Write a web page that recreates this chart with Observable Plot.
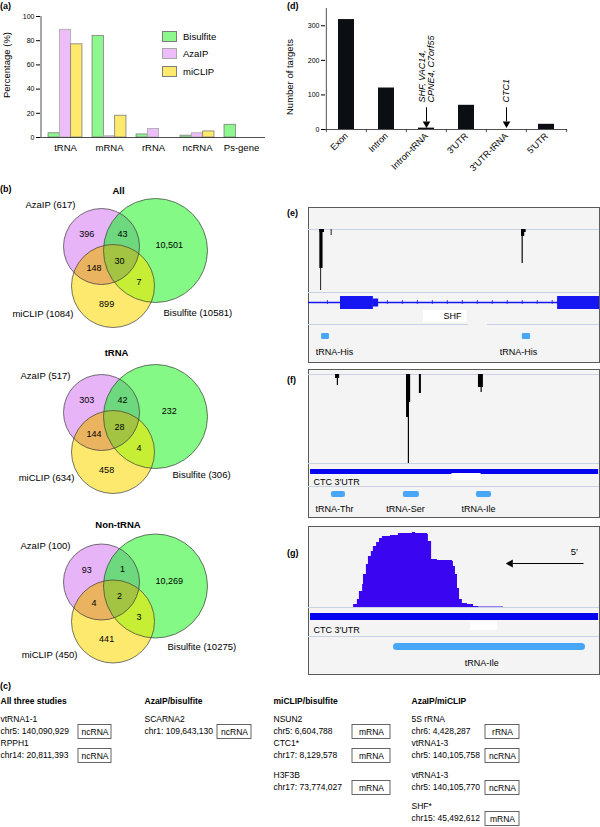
<!DOCTYPE html>
<html>
<head>
<meta charset="utf-8">
<script src="https://cdn.jsdelivr.net/npm/d3@7"></script>
<script src="https://cdn.jsdelivr.net/npm/@observablehq/plot@0.6"></script>
<style>
html,body{margin:0;padding:0;background:#fff;}
#fig{position:relative;width:600px;height:827px;overflow:hidden;font-family:"Liberation Sans",Arial,Helvetica,sans-serif;color:#000;}
.lbl{position:absolute;font-weight:bold;font-size:9px;line-height:10px;white-space:nowrap;}
.box{position:absolute;border:1px solid #5a5a5a;background:#f4f4f4;box-sizing:border-box;}
.sw{position:absolute;width:15px;height:11px;box-sizing:border-box;border:1px solid #8a8a8a;}
.lg{position:absolute;font-size:9.5px;line-height:11px;white-space:nowrap;}
</style>
</head>
<body>
<div id="fig"></div>
<script>
// ================= DATA =================
// (a) RNA class of targets, % per study
const rnaCategories = ["tRNA", "mRNA", "rRNA", "ncRNA", "Ps-gene"];
const studies = ["Bisulfite", "AzaIP", "miCLIP"];
const pctBisulfite = [3.5, 84, 2.5, 1.5, 10.5];
const pctAzaIP = [89, 1, 7, 3.5, 0];
const pctMiCLIP = [77, 18, 0, 5, 0];
const pctTicks = [0, 20, 40, 60, 80, 100];

// (b) Venn diagrams
const vennSubsets = ["All", "tRNA", "Non-tRNA"];
const vennSets = ["AzaIP", "Bisulfite", "miCLIP"];
const vennTotalsAll = [617, 10581, 1084];
const vennTotalsTRNA = [517, 306, 634];
const vennTotalsNonTRNA = [100, 10275, 450];
// regions: AzaIP only, AzaIP&Bisulfite, Bisulfite only, all three, AzaIP&miCLIP, Bisulfite&miCLIP, miCLIP only
const vennRegions = ["A", "AB", "B", "ABM", "AM", "BM", "M"];
const vennCountsAll = [396, 43, 10501, 30, 148, 7, 899];
const vennCountsTRNA = [303, 42, 232, 28, 144, 4, 458];
const vennCountsNonTRNA = [93, 1, 10269, 2, 4, 3, 441];

// (c) shared sites
const sharedGroups = ["All three studies", "AzaIP/bisulfite", "miCLIP/bisulfite", "AzaIP/miCLIP"];
const sharedGroupOf = [0, 0, 1, 2, 2, 2, 3, 3, 3, 3];
const sharedGenes = ["vtRNA1-1", "RPPH1", "SCARNA2", "NSUN2", "CTC1*", "H3F3B", "5S rRNA", "vtRNA1-3", "vtRNA1-3", "SHF*"];
const sharedCoords = ["chr5: 140,090,929", "chr14: 20,811,393", "chr1: 109,643,130", "chr5: 6,604,788", "chr17: 8,129,578", "chr17: 73,774,027", "chr6: 4,428,287", "chr5: 140,105,758", "chr5: 140,105,770", "chr15: 45,492,612"];
const sharedTypes = ["ncRNA", "ncRNA", "ncRNA", "mRNA", "mRNA", "mRNA", "rRNA", "ncRNA", "ncRNA", "mRNA"];

// (d) miCLIP targets by gene feature
const targetCategories = ["Exon", "Intron", "Intron-tRNA", "3′UTR", "3′UTR-tRNA", "5′UTR"];
const targetCounts = [318, 120, 4, 70, 0, 15];
const targetTicks = [0, 100, 200, 300];
const targetNoteCats = ["Intron-tRNA", "3′UTR-tRNA"];
const targetNotes = ["SHF, VAC14,\nCPNE4, C7orf55", "CTC1"];

// (e) SHF locus (positions in % of browser window, depth in reads)
const shfSignalStart = [3.9, 3.9, 4.2, 7.8, 73.2, 73.2, 73.4];
const shfSignalEnd = [5.5, 5.0, 4.5, 8.1, 74.8, 74.3, 73.8];
const shfSignalDepth = [3, 39, 61, 6, 3, 7, 34];
const shfExonStart = [11.0, 85.6];
const shfExonEnd = [22.3, 100];
const shfUtrStart = [22.3];
const shfUtrEnd = [24.1];
const shfGeneName = "SHF";
const shfGeneLabelX = 49.5;
const shfTrnaStart = [4.5, 73.5];
const shfTrnaEnd = [7.2, 76.3];
const shfTrnaNames = ["tRNA-His", "tRNA-His"];
const shfTrnaLabelX = [8.9, 72.2];

// (f) CTC1 3'UTR
const ctcSignalStart = [9.3, 9.9, 33.7, 33.7, 34.3, 38.1, 58.4, 59.3];
const ctcSignalEnd = [10.7, 10.3, 35.1, 34.4, 34.7, 38.8, 60.1, 59.7];
const ctcSignalDepth = [4, 11, 28, 43, 89, 19, 13, 18];
const ctcFeatureName = "CTC 3′UTR";
const ctcUtrStart = 0.7, ctcUtrEnd = 99.7;
const ctcTrnaStart = [7.9, 32.6, 57.7];
const ctcTrnaEnd = [12.7, 38.1, 62.9];
const ctcTrnaNames = ["tRNA-Thr", "tRNA-Ser", "tRNA-Ile"];
const ctcTrnaLabelX = [8.9, 33.3, 58.4];

// (g) tRNA-Ile coverage
const ileCoveragePos = [15.1, 15.5, 16.8, 17.5, 18.6, 18.9, 19.9, 20.6, 21.6, 22.3, 23.4, 24.4, 25.4, 28.2, 30.9, 35.7, 36.8, 40.9, 41.2, 42.3, 44.3, 49.5, 49.8, 50.5, 51.2, 51.9, 52.9, 54.6, 56.7, 58.4, 67.0];
const ileCoverageDepth = [0, 3, 8, 16, 23, 33, 43, 51, 56, 61, 65, 69, 71, 72, 74, 75, 74, 73, 66, 48, 47, 46, 41, 33, 19, 8, 4, 3, 1, 0.6, 0];
const ileTrnaStart = 29.2, ileTrnaEnd = 95.2;
const ileTrnaName = "tRNA-Ile";
const ileTrnaLabelX = 59.5;
const ileArrowFrom = 94.5, ileArrowTo = 68.6, ileArrowDepth = 44;
const ileStrandLabel = "5′";

// ================= HELPERS =================
const FONT = "'Liberation Sans', Arial, Helvetica, sans-serif";
const baseStyle = {fontFamily: FONT, fontSize: "9px", background: "transparent", overflow: "visible", color: "#000"};
const fig = document.getElementById("fig");
function place(node, left, top) {
  node.style.position = "absolute";
  node.style.left = left + "px";
  node.style.top = top + "px";
  node.style.maxWidth = "none";
  fig.appendChild(node);
  return node;
}
function div(cls, text, left, top, extra = {}) {
  const d = document.createElement("div");
  d.className = cls;
  if (text != null) d.textContent = text;
  Object.assign(d.style, {left: left + "px", top: top + "px"}, extra);
  fig.appendChild(d);
  return d;
}
const idx = (a) => d3.range(a.length);

// panel letters
[["(a)", 0, 1], ["(d)", 287, 1], ["(b)", 0, 184], ["(e)", 287, 208], ["(f)", 287, 375], ["(g)", 287, 548], ["(c)", 0, 681]]
  .forEach(([t, x, y]) => div("lbl", t, x, y));

// ================= (a) =================
const studyFill = {Bisulfite: "#8ef78e", AzaIP: "#edbdf9", miCLIP: "#fde96c"};
const studyStroke = {Bisulfite: "#7d7d7d", AzaIP: "#a8a8a8", miCLIP: "#7d7d7d"};
{
  const W = 270, H = 160, ML = 40, MR = 5, MT = 16, MB = 23;
  const step = 44;
  const padOuter = ((W - ML - MR) / step - rnaCategories.length) / 2;
  const barW = 11.3, off = (step - studies.length * barW) / 2;
  const series = [pctBisulfite, pctAzaIP, pctMiCLIP];
  const ids = idx(rnaCategories);
  const chart = Plot.plot({
    width: W, height: H, marginLeft: ML, marginRight: MR, marginTop: MT, marginBottom: MB,
    style: baseStyle,
    x: {domain: rnaCategories, paddingInner: 0, paddingOuter: padOuter},
    y: {domain: [0, 100]},
    marks: [
      ...studies.map((s, j) => Plot.barY(ids.filter(i => series[j][i] > 0), {
        x: i => rnaCategories[i], y: i => series[j][i],
        fill: studyFill[s], stroke: studyStroke[s], strokeWidth: 0.8,
        insetLeft: off + j * barW, insetRight: step - off - (j + 1) * barW
      })),
      Plot.ruleY([0], {stroke: "#222", strokeWidth: 0.8}),
      Plot.ruleX([rnaCategories[0]], {dx: -(padOuter + 0.5) * step, stroke: "#222", strokeWidth: 0.8}),
      Plot.axisY({ticks: pctTicks, tickSize: 4, tickPadding: 2, fontSize: 7, label: null}),
      Plot.axisX({tickSize: 0, tickPadding: 7, fontSize: 9.5, label: null}),
      Plot.text(["Percentage (%)"], {text: d => d, frameAnchor: "left", textAnchor: "middle", rotate: -90, dx: -34, dy: -12, fontSize: 9.5})
    ]
  });
  place(chart, 0, 0);
  // legend
  studies.forEach((s, j) => {
    const cy = 36 + j * 17.5;
    div("sw", null, 162, cy - 5.5, {background: studyFill[s], borderColor: studyStroke[s]});
    div("lg", s, 183, cy - 5.5);
  });
}

// ================= (d) =================
{
  const W = 320, H = 190, ML = 45, MR = 33, MT = 8, MB = 61;
  const step = (W - ML - MR) / targetCategories.length;
  const last = targetCategories[targetCategories.length - 1];
  const chart = Plot.plot({
    width: W, height: H, marginLeft: ML, marginRight: MR, marginTop: MT, marginBottom: MB,
    style: baseStyle,
    x: {domain: targetCategories, paddingInner: 0.6, paddingOuter: 0.3},
    y: {domain: [0, 350]},
    marks: [
      Plot.barY(idx(targetCategories), {x: i => targetCategories[i], y: i => targetCounts[i], fill: "#0b0f14"}),
      Plot.ruleY([0], {stroke: "#222", strokeWidth: 0.8}),
      Plot.ruleX([targetCategories[0]], {dx: -step / 2, stroke: "#222", strokeWidth: 0.8}),
      Plot.ruleX(targetCategories, {x: d => d, y1: 0, y2: -9, dx: -step / 2, stroke: "#222", strokeWidth: 0.8}),
      Plot.ruleX([last], {x: d => d, y1: 0, y2: -9, dx: step / 2, stroke: "#222", strokeWidth: 0.8}),
      Plot.axisY({ticks: targetTicks, tickSize: 4, tickPadding: 2, fontSize: 7, label: null}),
      Plot.axisX({tickSize: 0, tickPadding: 5, tickRotate: -45, fontSize: 9, label: null}),
      Plot.text(["Number of targets"], {text: d => d, frameAnchor: "left", textAnchor: "middle", rotate: -90, dx: -36, dy: 8, fontSize: 9.5}),
      Plot.ruleX(targetNoteCats, {x: d => d, y1: 63, y2: 22, stroke: "#000", strokeWidth: 1}),
      Plot.dot(targetNoteCats, {x: d => d, y: 17, symbol: "triangle", r: 2.8, fill: "#000", stroke: "none", rotate: 180}),
      Plot.text(targetNoteCats, {x: d => d, y: 78, text: (d, i) => targetNotes[i], rotate: -90, textAnchor: "start", fontStyle: "italic", fontSize: 9})
    ]
  });
  place(chart, 280, 0);
}

// ================= (b) =================
{
  const regionFill = {A: "#e8b4f8", B: "#85f985", M: "#fee96f", AB: "#6dd87d", AM: "#e9b35f", BM: "#c6ee34", ABM: "#a3c443"};
  const geom = {A: [-54, -4, 38], B: [0, 0, 52], M: [-42.5, 35.5, 41.5]};
  const layout = [
    {c: [155, 250], title: [118, 190], A: [75, 204], M: [73, 313], B: [163, 312]},
    {c: [155, 416], title: [116, 352], A: [70, 375], M: [74, 477], B: [172, 474]},
    {c: [155, 585.5], title: [117.5, 524], A: [70, 545], M: [77, 654], B: [167, 646]}
  ];
  const totals = [vennTotalsAll, vennTotalsTRNA, vennTotalsNonTRNA];
  const counts = [vennCountsAll, vennCountsTRNA, vennCountsNonTRNA];
  const keys = ["A", "B", "M"];
  const inside = (p, c) => (p[0] - c.x) ** 2 + (p[1] - c.y) ** 2 <= c.r * c.r + 1e-6;
  const boundary = (c, n = 360) => d3.range(n).map(k => {
    const t = 2 * Math.PI * k / n;
    return [c.x + c.r * Math.cos(t), c.y + c.r * Math.sin(t)];
  });
  function intersection(cs) {
    const pts = [];
    cs.forEach(c => boundary(c).forEach(p => { if (cs.every(o => o === c || inside(p, o))) pts.push(p); }));
    const mx = d3.mean(pts, p => p[0]), my = d3.mean(pts, p => p[1]);
    pts.sort((a, b) => Math.atan2(a[1] - my, a[0] - mx) - Math.atan2(b[1] - my, b[0] - mx));
    return pts;
  }
  const circles = [], overlaps = [], regionLabels = [], titles = [], labelsEnd = [], labelsStart = [];
  vennSubsets.forEach((name, s) => {
    const L = layout[s];
    const cs = keys.map(k => ({key: k, x: L.c[0] + geom[k][0], y: L.c[1] + geom[k][1], r: geom[k][2]}));
    circles.push(...cs);
    const byKey = Object.fromEntries(cs.map(c => [c.key, c]));
    ["AB", "AM", "BM", "ABM"].forEach(k => {
      intersection([...k].map(ch => byKey[ch])).forEach(([x, y]) => overlaps.push({id: name + k, key: k, x, y}));
    });
    const acc = {};
    const x0 = d3.min(cs, c => c.x - c.r), x1 = d3.max(cs, c => c.x + c.r);
    const y0 = d3.min(cs, c => c.y - c.r), y1 = d3.max(cs, c => c.y + c.r);
    for (let x = x0; x <= x1; x += 0.5) for (let y = y0; y <= y1; y += 0.5) {
      const k = cs.filter(c => inside([x, y], c)).map(c => c.key).join("");
      if (!k) continue;
      const a = acc[k] || (acc[k] = [0, 0, 0]);
      a[0] += x; a[1] += y; a[2]++;
    }
    vennRegions.forEach((k, i) => {
      const a = acc[k];
      regionLabels.push({x: a[0] / a[2], y: a[1] / a[2], text: d3.format(",")(counts[s][i])});
    });
    titles.push({x: L.title[0], y: L.title[1], text: name});
    vennSets.forEach((setName, j) => {
      const k = keys[j];
      const item = {x: L[k][0], y: L[k][1], text: `${setName} (${totals[s][j]})`};
      (k === "B" ? labelsStart : labelsEnd).push(item);
    });
  });
  const chart = Plot.plot({
    width: 280, height: 500, margin: 0,
    style: baseStyle,
    x: {domain: [0, 280], range: [0, 280], axis: null},
    y: {domain: [180, 680], range: [0, 500], axis: null},
    r: {type: "identity"},
    color: {type: "identity"},
    marks: [
      Plot.dot(circles, {x: "x", y: "y", r: "r", fill: d => regionFill[d.key], stroke: "none"}),
      ...["AB", "AM", "BM", "ABM"].map(k => Plot.line(overlaps.filter(d => d.key === k), {x: "x", y: "y", z: "id", fill: regionFill[k], stroke: "none"})),
      Plot.dot(circles, {x: "x", y: "y", r: "r", fill: "none", stroke: "#3a3a3a", strokeWidth: 0.7}),
      Plot.text(regionLabels, {x: "x", y: "y", text: "text", fontSize: 9}),
      Plot.text(titles, {x: "x", y: "y", text: "text", fontSize: 9.5, fontWeight: "bold"}),
      Plot.text(labelsEnd, {x: "x", y: "y", text: "text", fontSize: 9.5, textAnchor: "end"}),
      Plot.text(labelsStart, {x: "x", y: "y", text: "text", fontSize: 9.5, textAnchor: "start"})
    ]
  });
  place(chart, 0, 180);
}

// ================= (c) =================
{
  const colX = [0, 144, 273, 411];
  const boxX = [78, 217, 352, 485];
  const boxW = [33, 34, 38, 34];
  const rowY = [719, 743, 775, 806];
  const headerY = 701;
  const counter = [0, 0, 0, 0];
  const rows = sharedGenes.map((g, i) => {
    const grp = sharedGroupOf[i];
    const r = counter[grp]++;
    return {grp, r, gene: g, coord: sharedCoords[i], type: sharedTypes[i]};
  });
  const chart = Plot.plot({
    width: 600, height: 147, margin: 0,
    style: baseStyle,
    x: {domain: [0, 600], range: [0, 600], axis: null},
    y: {domain: [680, 827], range: [0, 147], axis: null},
    marks: [
      Plot.text(sharedGroups, {x: (d, i) => colX[i], y: headerY, text: d => d, textAnchor: "start", fontWeight: "bold", fontSize: 8.5}),
      Plot.text(rows, {x: d => colX[d.grp], y: d => rowY[d.r], text: "gene", textAnchor: "start", fontSize: 8.5}),
      Plot.text(rows, {x: d => colX[d.grp], y: d => rowY[d.r] + 12, text: "coord", textAnchor: "start", fontSize: 8.5}),
      Plot.rect(rows, {x1: d => boxX[d.grp], x2: d => boxX[d.grp] + boxW[d.grp], y1: d => rowY[d.r] + 5.5, y2: d => rowY[d.r] + 19.5, fill: "#fff", stroke: "#555", strokeWidth: 0.9}),
      Plot.text(rows, {x: d => boxX[d.grp] + boxW[d.grp] / 2, y: d => rowY[d.r] + 13, text: "type", fontSize: 8.5})
    ]
  });
  place(chart, 0, 680);
}

// ================= (e)(f)(g) genome browser =================
const BW = 291;
const geneBlue = "#1616f2", utrBlue = "#0404ee", trnaBlue = "#48a6f8", pale = "#c9d2e4", covColor = "#3a06f2";
function track(h, yDomain, yRange, marks) {
  return Plot.plot({
    width: BW, height: h, margin: 0, style: baseStyle,
    x: {domain: [0, 100], range: [0, BW], axis: null},
    y: {domain: yDomain, range: yRange, axis: null},
    marks
  });
}
// boxes
div("box", null, 308, 207, {width: "292px", height: "156px"});
div("box", null, 308, 369, {width: "292px", height: "149px"});
div("box", null, 308, 526, {width: "292px", height: "149px"});

// (e) signal
place(track(66, [0, 63], [1, 64], [
  Plot.ruleY([0, 63], {stroke: pale, strokeWidth: 1}),
  Plot.rect(idx(shfSignalStart), {x1: i => shfSignalStart[i], x2: i => shfSignalEnd[i], y1: 0, y2: i => shfSignalDepth[i], fill: "#000"})
]), 308, 228);
// (e) annotation
{
  const ticks = d3.range(6.5, 85, 5.15).filter(t => !shfExonStart.some((s, i) => t > s - 1 && t < shfExonEnd[i] + 1) && !(t > shfUtrStart[0] - 1 && t < shfUtrEnd[0] + 1));
  place(track(70, [0, 70], [0, 70], [
    Plot.ruleY([10], {stroke: geneBlue, strokeWidth: 1.4}),
    Plot.ruleX(ticks, {x: d => d, y1: 8, y2: 12, stroke: geneBlue, strokeWidth: 0.8}),
    Plot.rect(idx(shfExonStart), {x1: i => shfExonStart[i], x2: i => shfExonEnd[i], y1: 4, y2: 17, fill: geneBlue}),
    Plot.rect(idx(shfUtrStart), {x1: i => shfUtrStart[i], x2: i => shfUtrEnd[i], y1: 6.5, y2: 14.5, fill: geneBlue}),
    Plot.rect([0], {x1: shfGeneLabelX - 10, x2: shfGeneLabelX + 5, y1: 18, y2: 30, fill: "#fff"}),
    Plot.text([shfGeneName], {x: shfGeneLabelX, y: 24, text: d => d, fontSize: 9}),
    Plot.ruleY([32], {x1: 0, x2: 55, stroke: pale}),
    Plot.ruleY([32], {x1: 61.5, x2: 100, stroke: pale}),
    Plot.rect(idx(shfTrnaStart), {x1: i => shfTrnaStart[i], x2: i => shfTrnaEnd[i], y1: 41, y2: 47, rx: 1, fill: trnaBlue}),
    Plot.text(idx(shfTrnaNames), {x: i => shfTrnaLabelX[i], y: 60, text: i => shfTrnaNames[i], fontSize: 9})
  ]), 308, 292);
}

// (f) signal
place(track(92, [0, 89], [1, 90], [
  Plot.ruleY([0, 89], {stroke: pale, strokeWidth: 1}),
  Plot.rect(idx(ctcSignalStart), {x1: i => ctcSignalStart[i], x2: i => ctcSignalEnd[i], y1: 0, y2: i => ctcSignalDepth[i], fill: "#000"})
]), 308, 373);
// (f) annotation
place(track(54, [0, 54], [0, 54], [
  Plot.rect([0], {x1: ctcUtrStart, x2: ctcUtrEnd, y1: 6, y2: 11, fill: utrBlue}),
  Plot.rect([0], {x1: 49.3, x2: 59.3, y1: 10, y2: 17, fill: "#fff"}),
  Plot.text([ctcFeatureName], {x: 1.7, y: 19, text: d => d, textAnchor: "start", fontSize: 9}),
  Plot.ruleY([23], {stroke: pale}),
  Plot.rect(idx(ctcTrnaStart), {x1: i => ctcTrnaStart[i], x2: i => ctcTrnaEnd[i], y1: 28, y2: 34, rx: 2, fill: trnaBlue}),
  Plot.text(idx(ctcTrnaNames), {x: i => ctcTrnaLabelX[i], y: 46, text: i => ctcTrnaNames[i], fontSize: 9})
]), 308, 463);

// (g) coverage
place(track(82, [0, 80], [81, 1], [
  Plot.ruleY([0], {stroke: pale, strokeWidth: 1}),
  Plot.areaY(idx(ileCoveragePos), {x: i => ileCoveragePos[i], y: i => ileCoverageDepth[i], curve: "step-after", fill: covColor}),
  Plot.link([0], {x1: ileArrowFrom, x2: ileArrowTo + 1.5, y1: ileArrowDepth, y2: ileArrowDepth, stroke: "#000", strokeWidth: 1}),
  Plot.dot([0], {x: ileArrowTo + 0.8, y: ileArrowDepth, symbol: "triangle", rotate: -90, r: 3, fill: "#000", stroke: "none"}),
  Plot.text([ileStrandLabel], {x: ileArrowFrom - 3.2, y: ileArrowDepth + 12, text: d => d, fontSize: 9.5})
]), 308, 526);
// (g) annotation
place(track(67, [0, 67], [0, 67], [
  Plot.rect([0], {x1: ctcUtrStart, x2: ctcUtrEnd, y1: 6, y2: 13, fill: utrBlue}),
  Plot.rect([0], {x1: 55.7, x2: 65, y1: 14, y2: 23, fill: "#fff"}),
  Plot.text([ctcFeatureName], {x: 1.7, y: 23, text: d => d, textAnchor: "start", fontSize: 9}),
  Plot.ruleY([29], {stroke: pale}),
  Plot.rect([0], {x1: ileTrnaStart, x2: ileTrnaEnd, y1: 36, y2: 43, rx: 3.5, fill: trnaBlue}),
  Plot.text([ileTrnaName], {x: ileTrnaLabelX, y: 56, text: d => d, fontSize: 9})
]), 308, 607);
</script>
</body>
</html>
